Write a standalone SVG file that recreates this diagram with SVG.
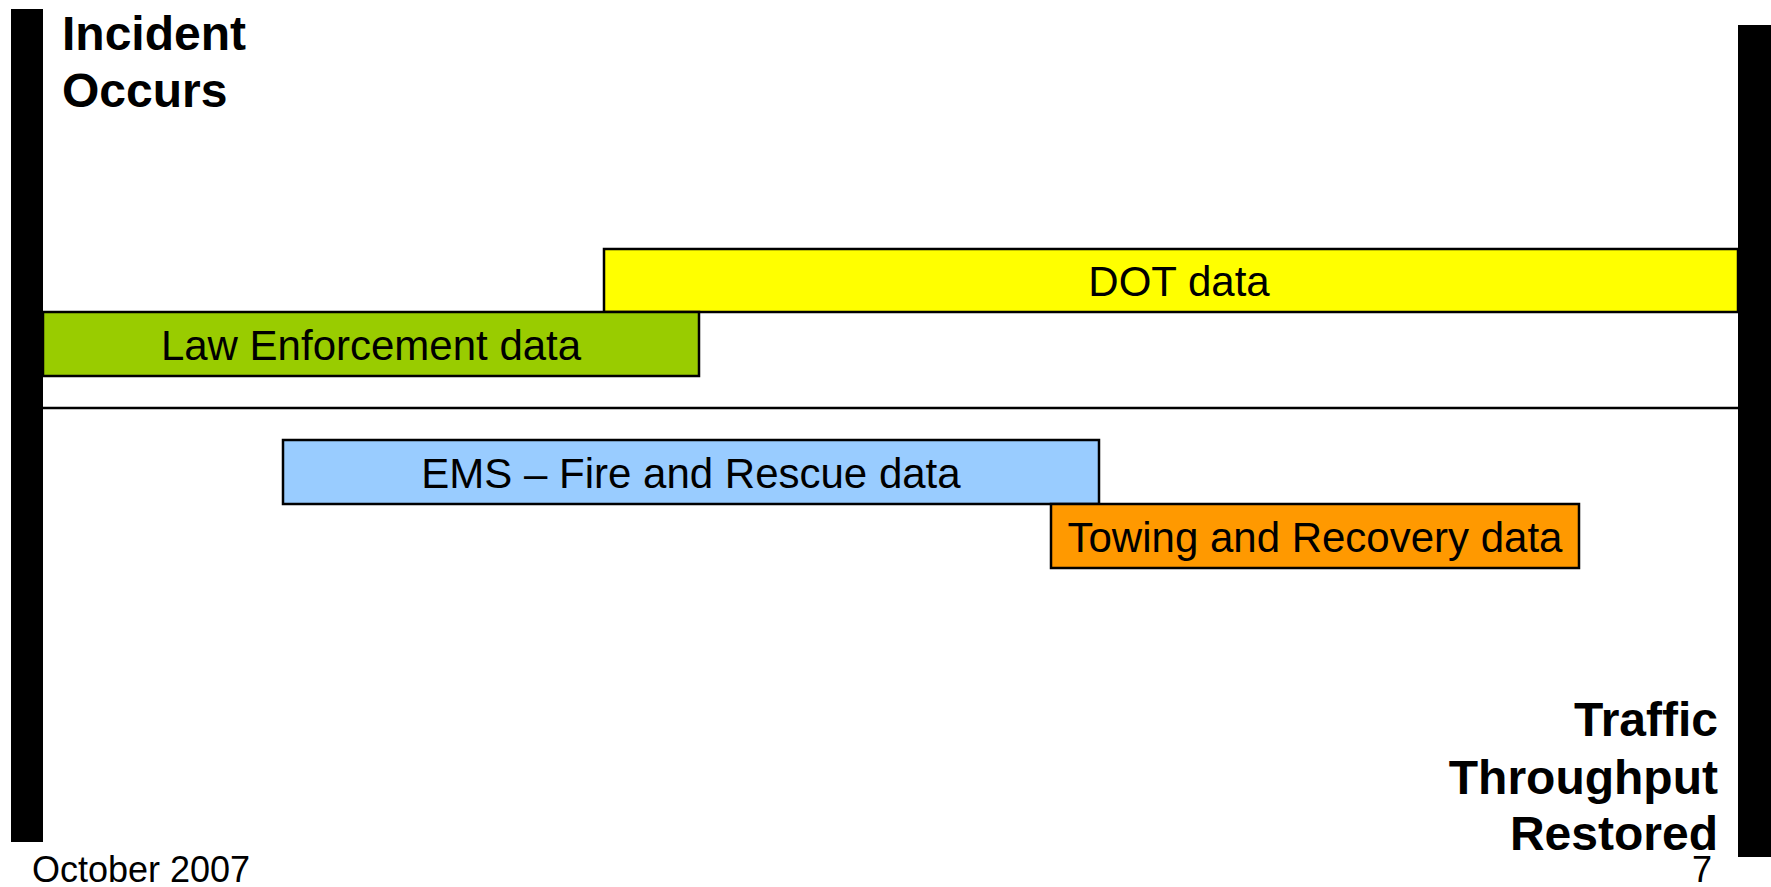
<svg xmlns="http://www.w3.org/2000/svg" width="1771" height="887" viewBox="0 0 1771 887">
<style>
.bar{fill:#000}
.box{stroke:#000;stroke-width:2.5}
.lbl{font-family:"Liberation Sans",Arial,sans-serif;font-size:42px;fill:#000;text-anchor:middle}
.ttl{font-family:"Liberation Sans",Arial,sans-serif;font-size:48px;font-weight:bold;fill:#000}
.foot{font-family:"Liberation Sans",Arial,sans-serif;font-size:36px;fill:#000}
</style>
<rect width="1771" height="887" fill="#fff"/>
<g id="start-bar"><rect class="bar" x="11" y="9" width="32" height="833"/></g>
<g id="end-bar"><rect class="bar" x="1738" y="25" width="33" height="832"/></g>
<g id="connectors">
<line x1="43" y1="408" x2="1738" y2="408" stroke="#000" stroke-width="2.5"/>
</g>
<g id="dot">
<rect class="box" x="604" y="249" width="1134" height="63" fill="#FFFF00"/>
<text class="lbl" x="1179" y="296">DOT data</text>
</g>
<g id="law">
<rect class="box" x="43" y="312" width="656" height="64" fill="#99CC00"/>
<text class="lbl" x="371" y="360">Law Enforcement data</text>
</g>
<g id="ems">
<rect class="box" x="283" y="440" width="816" height="64" fill="#99CCFF"/>
<text class="lbl" x="691" y="488">EMS – Fire and Rescue data</text>
</g>
<g id="towing">
<rect class="box" x="1051" y="504" width="528" height="64" fill="#FF9900"/>
<text class="lbl" x="1315" y="552">Towing and Recovery data</text>
</g>
<g id="incident">
<text class="ttl" x="62" y="50">Incident</text>
<text class="ttl" x="62" y="107">Occurs</text>
</g>
<g id="restored">
<text class="ttl" x="1718" y="736" text-anchor="end">Traffic</text>
<text class="ttl" x="1718" y="794" text-anchor="end">Throughput</text>
<text class="ttl" x="1718" y="850" text-anchor="end">Restored</text>
</g>
<text class="foot" x="32" y="882">October 2007</text>
<text class="foot" x="1712" y="882" text-anchor="end">7</text>
</svg>
